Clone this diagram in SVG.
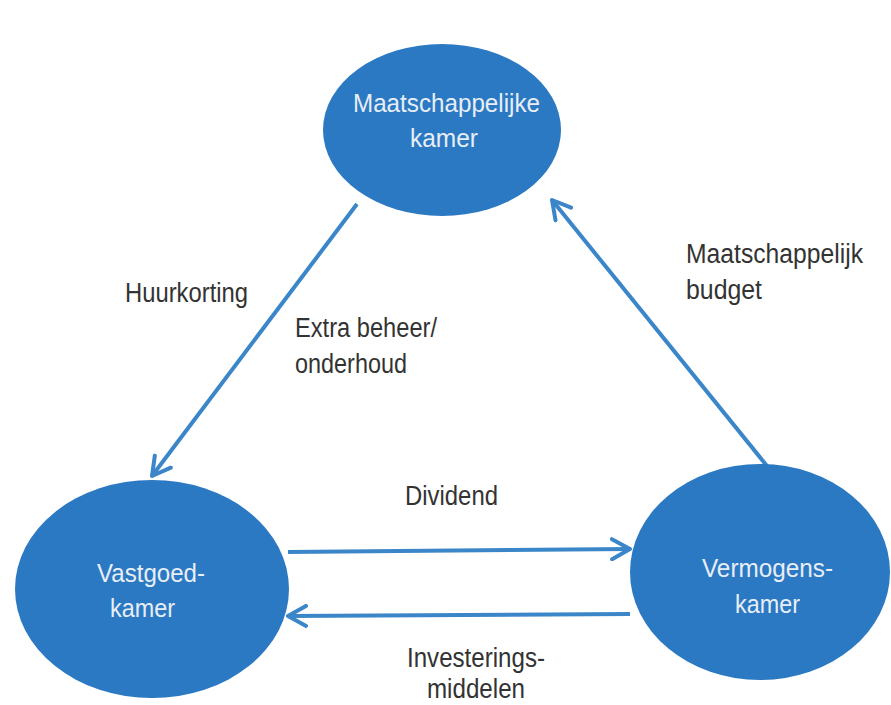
<svg xmlns="http://www.w3.org/2000/svg" width="891" height="705" viewBox="0 0 891 705">
<defs>
<style>
.node{fill:#2b79c2;}
.nt{fill:#e8eef6;font-family:"Liberation Sans",Arial,sans-serif;font-size:26px;}
.lbl{fill:#333333;font-family:"Liberation Sans",Arial,sans-serif;font-size:27px;}
.edge{stroke:#3a86c8;stroke-width:4;fill:none;marker-end:url(#ah);}
</style>
<marker id="ah" viewBox="0 0 12 12" refX="10" refY="6" markerWidth="6" markerHeight="6" orient="auto" markerUnits="strokeWidth">
<path d="M1,1 L10,6 L1,11" fill="none" stroke="#3a86c8" stroke-width="2" stroke-linecap="round" stroke-linejoin="round"/>
</marker>
</defs>
<rect width="891" height="705" fill="#ffffff"/>
<g id="connectors">
<line class="edge" x1="357" y1="204" x2="152" y2="476"/>
<line class="edge" x1="767" y1="466" x2="552" y2="200"/>
<line class="edge" x1="288" y1="552" x2="630" y2="549"/>
<line class="edge" x1="630" y1="614" x2="288" y2="616"/>
</g>
<g id="maatschappelijke-kamer">
<ellipse class="node" cx="442" cy="130" rx="119" ry="86"/>
<text class="nt" x="353" y="112" textLength="187" lengthAdjust="spacingAndGlyphs">Maatschappelijke</text>
<text class="nt" x="410" y="147" textLength="68" lengthAdjust="spacingAndGlyphs">kamer</text>
</g>
<g id="vastgoedkamer">
<ellipse class="node" cx="152" cy="589" rx="137" ry="109"/>
<text class="nt" x="97" y="582" textLength="108" lengthAdjust="spacingAndGlyphs">Vastgoed-</text>
<text class="nt" x="110" y="617" textLength="65" lengthAdjust="spacingAndGlyphs">kamer</text>
</g>
<g id="vermogenskamer">
<ellipse class="node" cx="760" cy="572" rx="130" ry="108"/>
<text class="nt" x="702" y="577" textLength="131" lengthAdjust="spacingAndGlyphs">Vermogens-</text>
<text class="nt" x="735" y="613" textLength="65" lengthAdjust="spacingAndGlyphs">kamer</text>
</g>
<g id="labels">
<text class="lbl" x="125" y="302" textLength="123" lengthAdjust="spacingAndGlyphs">Huurkorting</text>
<text class="lbl" x="295" y="337" textLength="142" lengthAdjust="spacingAndGlyphs">Extra beheer/</text>
<text class="lbl" x="295" y="373" textLength="112" lengthAdjust="spacingAndGlyphs">onderhoud</text>
<text class="lbl" x="686" y="263" textLength="177" lengthAdjust="spacingAndGlyphs">Maatschappelijk</text>
<text class="lbl" x="686" y="299" textLength="76" lengthAdjust="spacingAndGlyphs">budget</text>
<text class="lbl" x="405" y="505" textLength="93" lengthAdjust="spacingAndGlyphs">Dividend</text>
<text class="lbl" x="407" y="667" textLength="138" lengthAdjust="spacingAndGlyphs">Investerings-</text>
<text class="lbl" x="427" y="698" textLength="98" lengthAdjust="spacingAndGlyphs">middelen</text>
</g>
</svg>
